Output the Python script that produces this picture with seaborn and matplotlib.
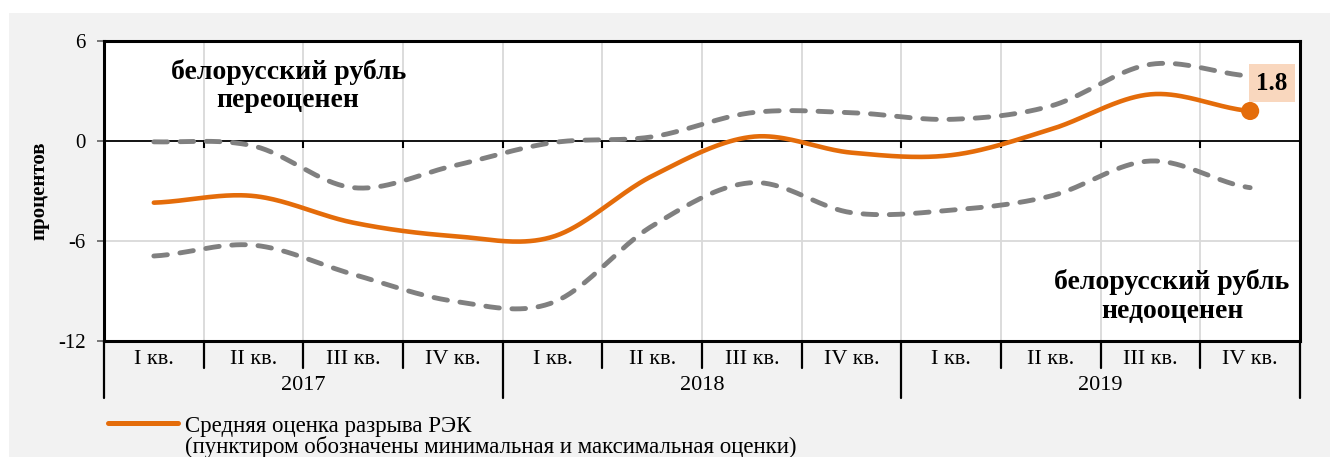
import numpy as np
import matplotlib
matplotlib.use("Agg")
import matplotlib.pyplot as plt
import matplotlib.transforms as mtransforms
from matplotlib.patches import Rectangle
from matplotlib.lines import Line2D
import seaborn as sns

# ---- data ----
quarters = ["I кв.", "II кв.", "III кв.", "IV кв."] * 3
years = ["2017", "2018", "2019"]
mean_gap = [-3.7, -3.3, -4.9, -5.7, -5.75, -2.1, 0.25, -0.7, -0.85, 0.7, 2.8, 1.8]
max_gap = [-0.05, -0.3, -2.8, -1.5, -0.1, 0.25, 1.7, 1.7, 1.3, 2.1, 4.6, 3.9]
min_gap = [-6.9, -6.25, -8.0, -9.6, -9.7, -5.1, -2.5, -4.3, -4.15, -3.3, -1.2, -2.8]
y_ticks = [-12, -6, 0, 6]
legend_lines = ["Средняя оценка разрыва РЭК",
                "(пунктиром обозначены минимальная и максимальная оценки)"]
note_over = "белорусский рубль\nпереоценен"
note_under = "белорусский рубль\nнедооценен"

ORANGE = "#E46C0A"
GRAY = "#808080"

sns.set_style("white")
plt.rcParams["font.family"] = ["Liberation Serif", "DejaVu Serif"]
plt.rcParams["text.color"] = "black"
plt.rcParams["axes.labelcolor"] = "black"
plt.rcParams["ytick.color"] = "#606060"
plt.rcParams["ytick.labelcolor"] = "black"


def smooth(vals, n=40):
    """Catmull-Rom smoothing (like Excel smoothed lines) for drawing."""
    y = np.asarray(vals, float)
    p = np.r_[y[0], y, y[-1]]
    xs, ys = [], []
    for i in range(len(y) - 1):
        p0, p1, p2, p3 = p[i], p[i + 1], p[i + 2], p[i + 3]
        m1 = (p2 - p0) / 2
        m2 = (p3 - p1) / 2
        t = np.linspace(0, 1, n, endpoint=(i == len(y) - 2))
        h00 = 2 * t**3 - 3 * t**2 + 1
        h10 = t**3 - 2 * t**2 + t
        h01 = -2 * t**3 + 3 * t**2
        h11 = t**3 - t**2
        ys.append(h00 * p1 + h10 * m1 + h01 * p2 + h11 * m2)
        xs.append(i + t)
    return np.concatenate(xs), np.concatenate(ys)


W, H = 1330, 457
fig = plt.figure(figsize=(W / 100, H / 100), dpi=100)
fig.patch.set_facecolor("white")
fig.add_artist(Rectangle((9 / W, 0), 1 - 9 / W, (H - 13) / H, transform=fig.transFigure,
                         facecolor="#f2f2f2", edgecolor="none", zorder=-10))

ax = fig.add_axes([104 / W, 116 / H, 1196 / W, 300 / H])
ax.set_facecolor("white")
n = len(quarters)
ax.set_xlim(-0.5, n - 0.5)
ax.set_ylim(y_ticks[0], y_ticks[-1])

# grid
bounds = np.arange(0.5, n - 0.5, 1.0)
ax.vlines(bounds, y_ticks[0], y_ticks[-1], color="#d9d9d9", lw=1.3, zorder=0)
ax.axhline(-6, color="#d9d9d9", lw=1.3, zorder=0)
ax.axhline(0, color="black", lw=1.3, zorder=1)
ax.vlines(bounds, -0.4, 0, color="black", lw=1.5, zorder=1)

# lines
for data in (max_gap, min_gap):
    xs, ys = smooth(data)
    sns.lineplot(x=xs, y=ys, ax=ax, color=GRAY, lw=3.5, sort=False, estimator=None,
                 linestyle=(0, (2.8, 2.6)), dash_capstyle="round", zorder=3)
xs, ys = smooth(mean_gap)
sns.lineplot(x=xs, y=ys, ax=ax, color=ORANGE, lw=3.3, sort=False, estimator=None,
             solid_capstyle="round", zorder=4)
sns.scatterplot(x=[n - 1], y=[mean_gap[-1]], ax=ax, color=ORANGE, s=170,
                edgecolor="none", zorder=5)
ax.annotate(f"{mean_gap[-1]:.1f}", xy=(n - 1, mean_gap[-1]), xytext=(22, 28),
            textcoords="offset pixels", ha="center", va="center", fontsize=18,
            fontweight="bold", color="black", zorder=6,
            bbox=dict(boxstyle="square,pad=0.3", fc="#F9D7BE", ec="none"))

# notes
ax.text(0.154, 0.85, note_over, transform=ax.transAxes, ha="center", va="center",
        fontsize=20, fontweight="bold", linespacing=1.2)
ax.text(0.893, 0.148, note_under, transform=ax.transAxes, ha="center", va="center",
        fontsize=20, fontweight="bold", linespacing=1.2)

# axes style
for s in ax.spines.values():
    s.set_color("black")
    s.set_linewidth(2.2)
ax.set_xticks([])
ax.set_yticks(y_ticks)
ax.set_yticklabels([str(v) for v in y_ticks], fontsize=15)
ax.tick_params(axis="y", length=5, width=1.2, pad=8, left=True)
ax.set_ylabel("процентов", fontsize=15, fontweight="bold")
ax.yaxis.set_label_coords(-0.046, 0.5)

# category axis
trans = mtransforms.blended_transform_factory(ax.transData, ax.transAxes)
for i, q in enumerate(quarters):
    ax.text(i, -0.06, q, transform=trans, ha="center", va="center", fontsize=16)
for j, yr in enumerate(years):
    ax.text(j * 4 + 1.5, -0.15, yr, transform=trans, ha="center", va="center", fontsize=16)
for b in np.arange(-0.5, n, 1.0):
    low = -0.19 if (b + 0.5) % 4 == 0 else -0.09
    ax.plot([b, b], [0, low], transform=trans, color="black", lw=1.6, clip_on=False)

# legend
fig.add_artist(Line2D([108 / W, 178 / W], [(H - 423) / H] * 2, transform=fig.transFigure,
                      color=ORANGE, lw=3.6, solid_capstyle="round"))
for k, line in enumerate(legend_lines):
    fig.text(185 / W, (H - 432 - 21 * k) / H, line, ha="left", va="baseline",
             fontsize=16.5)

fig.savefig("out.png", dpi=100, facecolor=fig.get_facecolor())
